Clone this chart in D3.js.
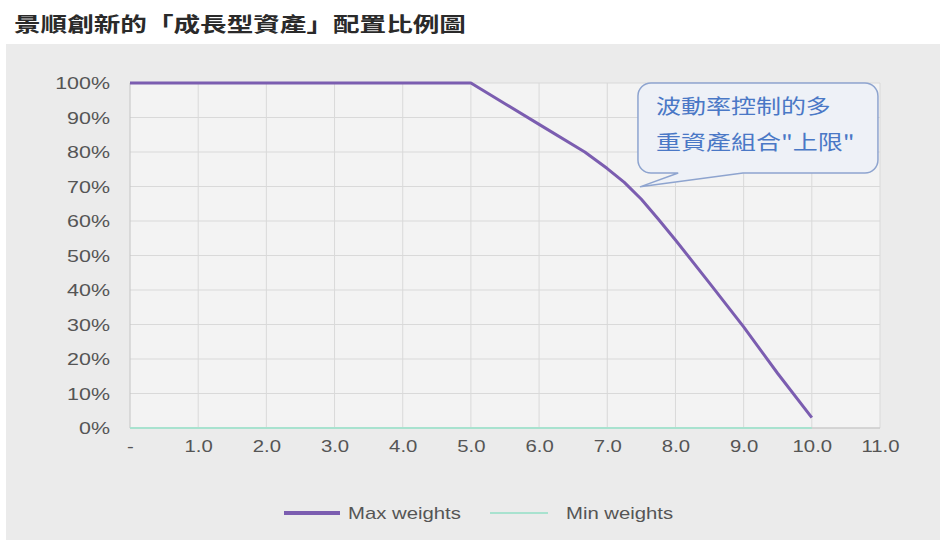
<!DOCTYPE html>
<html><head><meta charset="utf-8">
<script src="https://cdn.jsdelivr.net/npm/d3@7"></script>
<style>body{margin:0;background:#fff;}svg{display:block;}</style>
</head><body>
<svg id="c" width="940" height="540"></svg>
<script>
const title = "景順創新的「成長型資產」配置比例圖";
const xTickValues = [0,1,2,3,4,5,6,7,8,9,10,11];
const xTickLabels = ["-","1.0","2.0","3.0","4.0","5.0","6.0","7.0","8.0","9.0","10.0","11.0"];
const yTickValues = [0,0.1,0.2,0.3,0.4,0.5,0.6,0.7,0.8,0.9,1.0];
const volatility = [0, 5.0, 5.5, 6.0, 6.67, 7.0, 7.25, 7.5, 7.75, 8.0, 8.5, 9.0, 9.5, 10.0];
const maxWeights = [1, 1, 0.94, 0.88, 0.80, 0.752, 0.712, 0.663, 0.605, 0.545, 0.42, 0.293, 0.158, 0.03];
const minWeights = [0, 0, 0, 0, 0, 0, 0, 0, 0, 0, 0, 0, 0, 0];
const seriesNames = ["Max weights","Min weights"];
const calloutLines = ["波動率控制的多","重資產組合\"上限\""];

const svg = d3.select("#c");
const W = 940, H = 540;
const m = {left:130, right:60, top:83, bottom:112};
const x = d3.scaleLinear().domain([0,11]).range([m.left, W - m.right]);
const y = d3.scaleLinear().domain([0,1]).range([H - m.bottom, m.top]);
const SX = 1.27;

// backgrounds
svg.append("rect").attr("x",0).attr("y",0).attr("width",W).attr("height",H).attr("fill","#ffffff");
svg.append("rect").attr("x",6).attr("y",44).attr("width",W-6).attr("height",H-44).attr("fill","#ebebeb");
svg.append("rect").attr("x",x(0)).attr("y",y(1)).attr("width",x(11)-x(0)).attr("height",y(0)-y(1))
  .attr("fill","#f3f3f3");

// title
svg.append("text").attr("transform",`translate(14,32) scale(1.33,1)`)
  .attr("font-family","'Noto Sans CJK TC','Noto Sans CJK SC',sans-serif").attr("font-weight","bold")
  .attr("font-size",20).attr("fill","#2a2a2a").text(title);

// grid
const g = svg.append("g");
g.selectAll(".hg").data(yTickValues).join("line")
  .attr("x1",x(0)).attr("x2",x(11)).attr("y1",d=>y(d)).attr("y2",d=>y(d))
  .attr("stroke","#d9d9d9").attr("stroke-width",1);
g.selectAll(".vg").data(xTickValues.slice(1)).join("line")
  .attr("x1",d=>x(d)).attr("x2",d=>x(d)).attr("y1",y(1)).attr("y2",y(0))
  .attr("stroke","#d9d9d9").attr("stroke-width",1);
g.append("line").attr("x1",x(0)).attr("x2",x(0)).attr("y1",y(1)).attr("y2",y(0)).attr("stroke","#c4c4c4");
g.append("line").attr("x1",x(0)).attr("x2",x(11)).attr("y1",y(0)).attr("y2",y(0)).attr("stroke","#c4c4c4");

// y axis labels
const yAxis = d3.axisLeft(y).tickValues(yTickValues).tickFormat(d3.format(".0%")).tickSize(0).tickPadding(0);
const ya = svg.append("g").attr("transform",`translate(110,0)`).call(yAxis);
ya.select(".domain").remove();
ya.selectAll("text").attr("font-family","'Liberation Sans',Arial,sans-serif").attr("font-size",16.5)
  .attr("fill","#555").attr("dy","0.35em").attr("x",0)
  .attr("transform",`scale(1.3,1)`);

// x axis labels
const xAxis = d3.axisBottom(x).tickValues(xTickValues).tickFormat((d,i)=>xTickLabels[i]).tickSize(0).tickPadding(0);
const xa = svg.append("g").attr("transform",`translate(0,${y(0)+18})`).call(xAxis);
xa.select(".domain").remove();
xa.selectAll("text").attr("font-family","'Liberation Sans',Arial,sans-serif").attr("font-size",16)
  .attr("fill","#555").attr("dy","0.35em").attr("transform",`scale(${SX},1)`).attr("y",0);

// lines
const maxData = volatility.map((v,i)=>[v,maxWeights[i]]);
const minData = volatility.map((v,i)=>[v,minWeights[i]]);
const line = d3.line().x(d=>x(d[0])).y(d=>y(d[1]));
svg.append("path").datum(minData).attr("d",line).attr("fill","none").attr("stroke","#a8e2cf").attr("stroke-width",2);
svg.append("path").datum(maxData).attr("d",line).attr("fill","none").attr("stroke","#7b5db0")
  .attr("stroke-width",3).attr("stroke-linejoin","round");

// callout
const bx0 = x(7.45), bx1 = x(10.97), by0 = y(1.0), by1 = y(0.739), r = 13;
const tb0 = x(8.04), tb1 = x(8.99), tipX = x(7.48), tipY = y(0.699);
const p = d3.path();
p.moveTo(bx0 + r, by0);
p.lineTo(bx1 - r, by0); p.arcTo(bx1, by0, bx1, by0 + r, r);
p.lineTo(bx1, by1 - r); p.arcTo(bx1, by1, bx1 - r, by1, r);
p.lineTo(tb1, by1); p.lineTo(tipX, tipY); p.lineTo(tb0, by1);
p.lineTo(bx0 + r, by1); p.arcTo(bx0, by1, bx0, by1 - r, r);
p.lineTo(bx0, by0 + r); p.arcTo(bx0, by0, bx0 + r, by0, r);
p.closePath();
svg.append("path").attr("d",p.toString()).attr("fill","#eef1f7").attr("stroke","#8ea4cf").attr("stroke-width",1.5);
svg.selectAll(".cl").data(calloutLines).join("text")
  .attr("transform",(d,i)=>`translate(${bx0+18},${by0 + 31 + i*36}) scale(1.25,1)`)
  .attr("font-family","'Noto Sans CJK TC','Noto Sans CJK SC',sans-serif")
  .attr("font-size",20).attr("fill","#4a78c6").text(d=>d);

// legend
const leg = svg.append("g").attr("transform","translate(0,513)");
const legItems = [
  {name:seriesNames[0], color:"#7b5db0", w:4, x0:284, x1:340, tx:348},
  {name:seriesNames[1], color:"#a8e2cf", w:2, x0:490, x1:548, tx:566}
];
legItems.forEach(it=>{
  leg.append("line").attr("x1",it.x0).attr("x2",it.x1).attr("y1",0).attr("y2",0)
    .attr("stroke",it.color).attr("stroke-width",it.w);
  leg.append("text").attr("transform",`translate(${it.tx},0) scale(${SX},1)`).attr("dy","0.35em")
    .attr("font-family","'Liberation Sans',Arial,sans-serif").attr("font-size",16).attr("fill","#555").text(it.name);
});
</script>
</body></html>
